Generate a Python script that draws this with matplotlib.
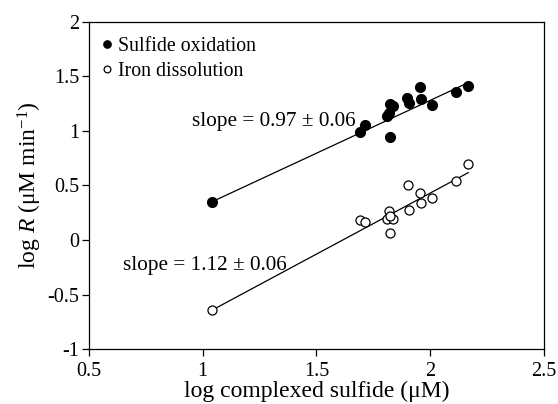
import numpy as np
import matplotlib
matplotlib.use("Agg")
import matplotlib.pyplot as plt

plt.rcParams['font.family'] = ['Liberation Serif', 'DejaVu Serif']
plt.rcParams['mathtext.fontset'] = 'custom'
plt.rcParams['mathtext.rm'] = 'Liberation Serif'
plt.rcParams['mathtext.it'] = 'Liberation Serif:italic'
plt.rcParams['axes.unicode_minus'] = False

# sulfide oxidation (filled)
sox_x = [1.04, 1.692, 1.714, 1.812, 1.817, 1.824, 1.836, 1.824, 1.90, 1.907, 1.956, 1.959, 2.01, 2.114, 2.167]
sox_y = [0.35, 0.99, 1.05, 1.14, 1.16, 1.245, 1.227, 0.94, 1.298, 1.258, 1.404, 1.294, 1.234, 1.353, 1.413]

# iron dissolution (open)
fe_x = [1.04, 1.692, 1.714, 1.817, 1.81, 1.835, 1.822, 1.824, 1.902, 1.908, 1.956, 1.959, 2.01, 2.114, 2.167]
fe_y = [-0.645, 0.182, 0.161, 0.268, 0.189, 0.189, 0.22, 0.06, 0.503, 0.277, 0.433, 0.341, 0.384, 0.543, 0.693]

sox_slope, sox_icpt = 0.97, -0.66
fe_slope, fe_icpt = 1.12, -1.81

fig = plt.figure(figsize=(5.58, 4.04), dpi=100)
ax = fig.add_axes([0.159, 0.136, 0.816, 0.81])

xl = np.array([min(sox_x), max(sox_x)])
ax.plot(xl, sox_slope * xl + sox_icpt, color='black', lw=0.9)
xl = np.array([min(fe_x), max(fe_x)])
ax.plot(xl, fe_slope * xl + fe_icpt, color='black', lw=0.9)

ax.plot(sox_x, sox_y, 'o', ms=7, color='black', label='Sulfide oxidation')
ax.plot(fe_x, fe_y, 'o', ms=6.5, mfc='white', mec='black', mew=0.9, label='Iron dissolution')

ax.text(0.953, 1.09, 'slope = 0.97 \u00b1 0.06', fontsize=15.3, va='center')
ax.text(0.649, -0.23, 'slope = 1.12 \u00b1 0.06', fontsize=15.3, va='center')

ax.set_xlim(0.5, 2.5)
ax.set_ylim(-1, 2)
ax.set_xticks([0.5, 1, 1.5, 2, 2.5])
ax.set_xticklabels(['0.5', '1', '1.5', '2', '2.5'])
ax.set_yticks([-1, -0.5, 0, 0.5, 1, 1.5, 2])
ax.set_yticklabels(['-1', '-0.5', '0', '0.5', '1', '1.5', '2'])
ax.tick_params(labelsize=14.5, direction='out', length=5, width=0.9, pad=2)
ax.tick_params(axis='x', pad=4)
for s in ax.spines.values():
    s.set_linewidth(0.9)

ax.set_xlabel('log complexed sulfide (\u03bcM)', fontsize=17, labelpad=0)
ax.set_ylabel('log $R$ (\u03bcM min$^{-1}$)', fontsize=17, labelpad=2)

leg = ax.legend(loc='upper left', bbox_to_anchor=(0.0, 0.978), frameon=False, fontsize=14.3,
                handletextpad=0.05, handlelength=1.0, borderaxespad=0.1, borderpad=0.3,
                labelspacing=0.3, markerscale=0.75)

fig.savefig('out.png', dpi=100)
